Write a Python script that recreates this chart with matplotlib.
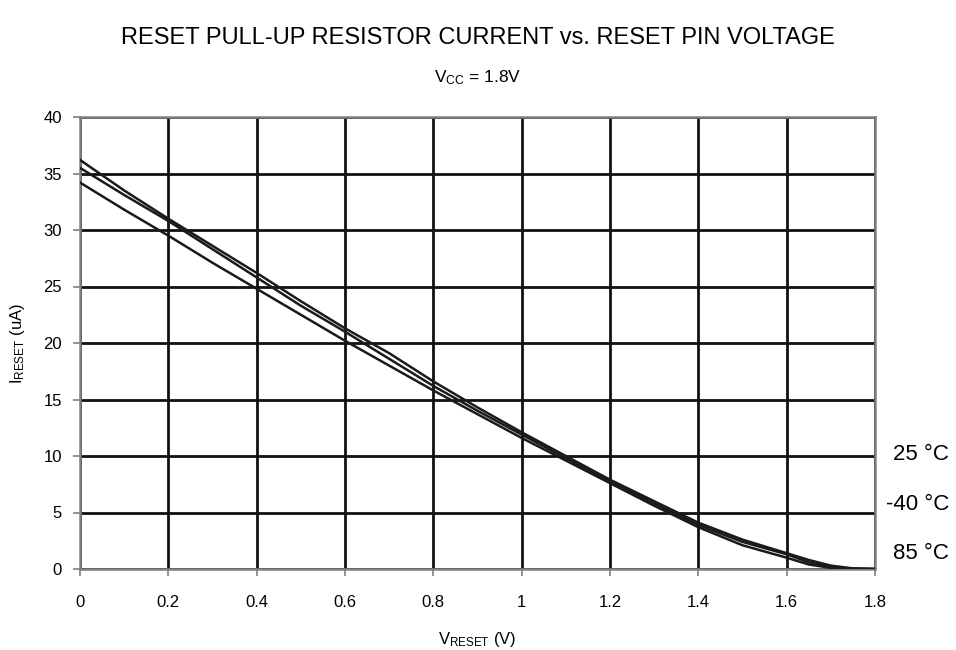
import matplotlib.pyplot as plt

plt.rcParams['font.family'] = ['Liberation Sans', 'DejaVu Sans']
plt.rcParams['mathtext.fontset'] = 'custom'
plt.rcParams['mathtext.rm'] = 'Liberation Sans'
plt.rcParams['mathtext.it'] = 'Liberation Sans'

# reset pin voltage (V) and pull-up current (uA) per temperature
v_reset = [0.0, 0.1, 0.2, 0.3, 0.4, 0.5, 0.6, 0.7, 0.8, 0.9, 1.0, 1.1, 1.2, 1.3, 1.4, 1.5, 1.6, 1.65, 1.7, 1.75, 1.8]
i_m40 = [36.2, 33.5, 31.0, 28.6, 26.2, 23.7, 21.3, 19.1, 16.6, 14.3, 12.1, 10.0, 7.9, 6.0, 4.1, 2.6, 1.4, 0.8, 0.3, 0.05, 0.0]
i_25 = [35.5, 33.1, 30.8, 28.3, 25.8, 23.3, 21.0, 18.6, 16.2, 14.0, 11.9, 9.8, 7.8, 5.8, 3.9, 2.4, 1.3, 0.6, 0.2, 0.03, 0.0]
i_85 = [34.2, 31.8, 29.5, 27.1, 24.8, 22.5, 20.2, 18.0, 15.8, 13.7, 11.6, 9.6, 7.6, 5.6, 3.7, 2.1, 1.0, 0.4, 0.1, 0.02, 0.0]

temp_labels = ['25 °C', '-40 °C', '85 °C']
temp_label_y = [10.1, 5.7, 1.4]

x_ticks = [0, 0.2, 0.4, 0.6, 0.8, 1.0, 1.2, 1.4, 1.6, 1.8]
x_tick_labels = ['0', '0.2', '0.4', '0.6', '0.8', '1', '1.2', '1.4', '1.6', '1.8']
y_ticks = [0, 5, 10, 15, 20, 25, 30, 35, 40]

fig = plt.figure(figsize=(9.56, 6.5), dpi=100)
ax = fig.add_axes([80 / 956, 81 / 650, 795 / 956, 452 / 650])

for curve in (i_m40, i_25, i_85):
    ax.plot(v_reset, curve, color='#1a1a1a', lw=1.8, zorder=3)

ax.set_xlim(0, 1.8)
ax.set_ylim(0, 40)
ax.set_xticks(x_ticks)
ax.set_xticklabels(x_tick_labels)
ax.set_yticks(y_ticks)
ax.tick_params(labelsize=12, length=5, width=1.2, color='#808080', direction='out')
ax.tick_params(axis='x', pad=14)
ax.tick_params(axis='y', pad=8)
ax.grid(True, color='#111111', lw=2.0, zorder=1)
for side in ax.spines.values():
    side.set_color('#808080')
    side.set_linewidth(1.8)

# temperature tags, right-aligned beyond the plot edge
for lbl, y in zip(temp_labels, temp_label_y):
    ax.text(1.968, y, lbl, fontsize=16, va='center', ha='right', clip_on=False)

ax.set_xlabel(r'V$_{\mathrm{RESET}}$ (V)', fontsize=12, labelpad=14)
ax.set_ylabel(r'I$_{\mathrm{RESET}}$ (uA)', fontsize=12, labelpad=12)

fig.text(0.5, 1 - 38 / 650, 'RESET PULL-UP RESISTOR CURRENT vs. RESET PIN VOLTAGE',
         ha='center', va='center', fontsize=17)
fig.text(0.5, 1 - 78 / 650, r'V$_{\mathrm{CC}}$ = 1.8V', ha='center', va='center', fontsize=12.5)

fig.savefig('out.png', dpi=100)
